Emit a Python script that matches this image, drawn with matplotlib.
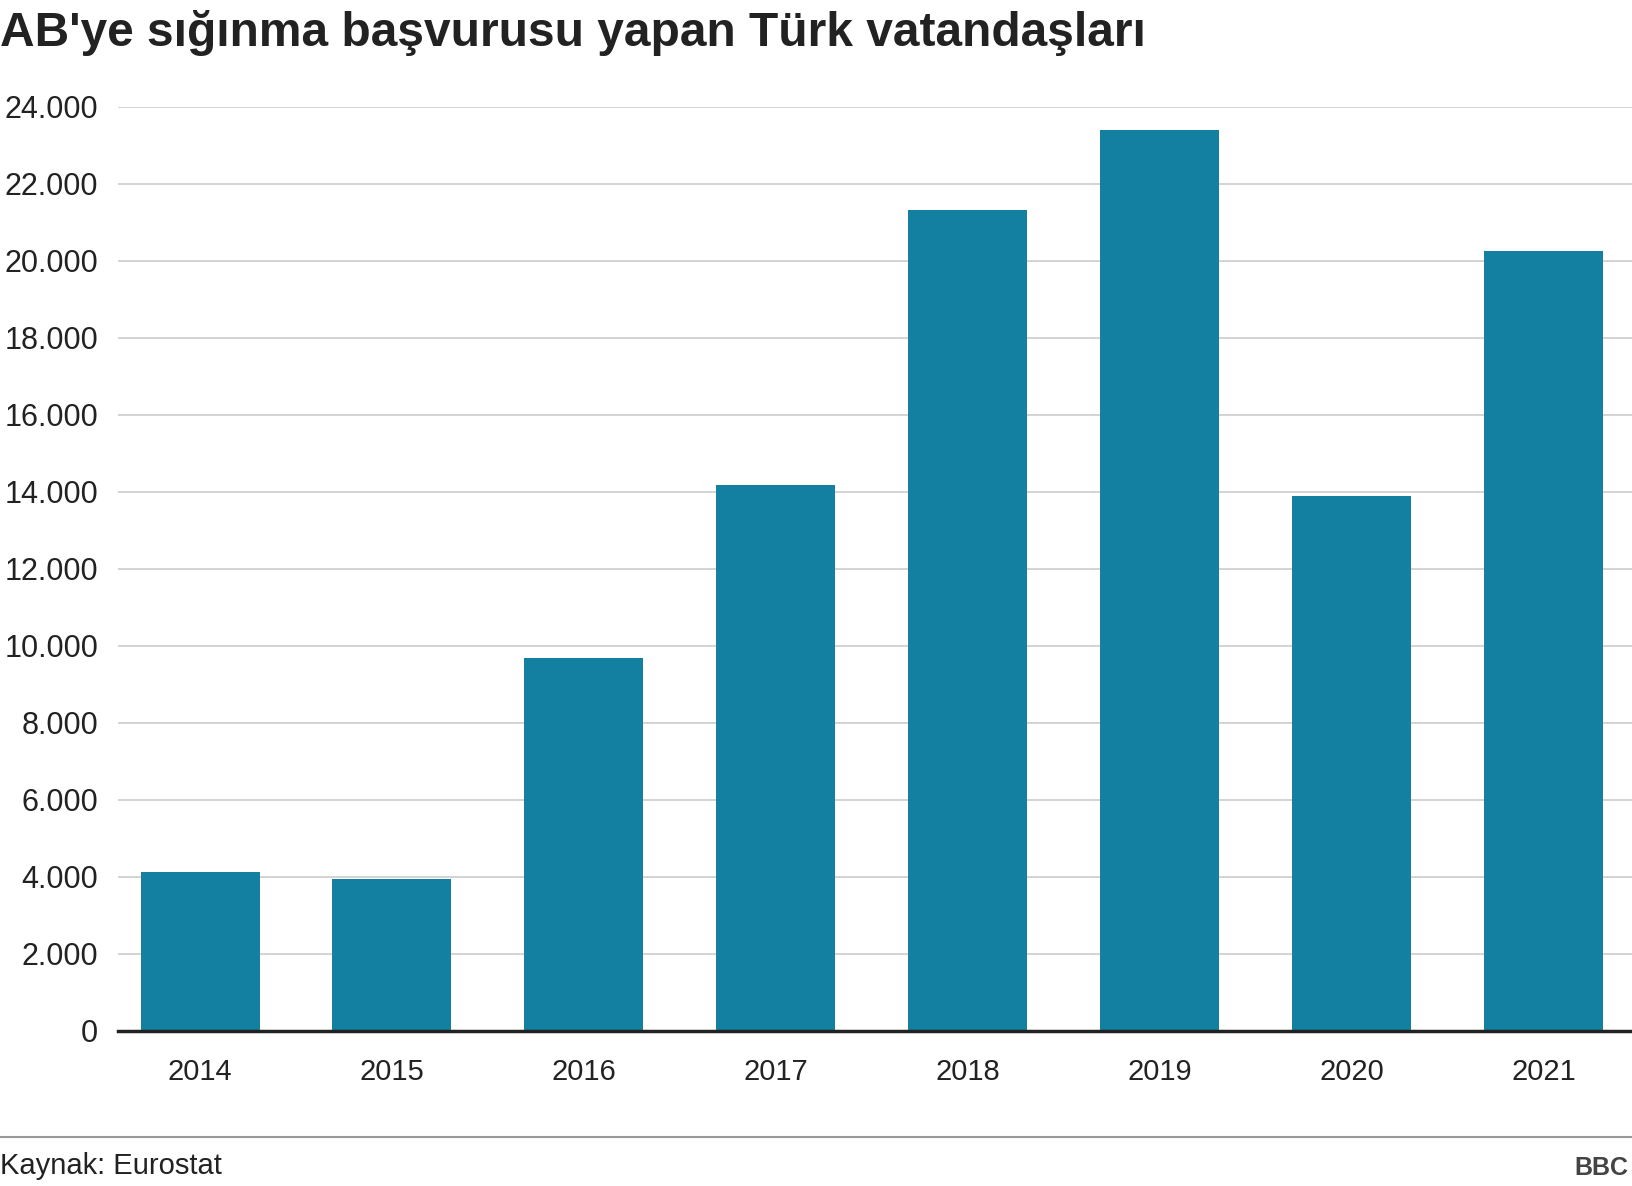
import matplotlib
matplotlib.use("Agg")
import matplotlib.pyplot as plt
from matplotlib.ticker import FuncFormatter

years = ["2014", "2015", "2016", "2017", "2018", "2019", "2020", "2021"]
values = [4130, 3930, 9680, 14170, 21310, 23400, 13900, 20250]

plt.rcParams['font.family'] = ['Liberation Sans', 'DejaVu Sans']
fig = plt.figure(figsize=(16.32, 11.86), dpi=100)
ax = fig.add_axes([0.072, 0.131, 0.928, 0.779])
ax.bar(range(len(years)), values, width=0.62, color="#1380A1", zorder=2)
ax.set_xlim(-0.43, 7.46)
ax.set_ylim(0, 24000)
ax.set_yticks(range(0, 24001, 2000))
ax.yaxis.set_major_formatter(FuncFormatter(lambda v, p: f"{int(v):,}".replace(",", ".")))
ax.set_xticks(range(len(years)))
ax.set_xticklabels(years)
ax.grid(axis='y', color="#cccccc", linewidth=1.2, zorder=0)
for s in ['top', 'right', 'left']:
    ax.spines[s].set_visible(False)
ax.spines['bottom'].set_linewidth(2.5)
ax.spines['bottom'].set_color('#222222')
ax.tick_params(axis='both', length=0, labelsize=21, colors='#222222')
ax.tick_params(axis='y', labelsize=22, pad=14)
ax.tick_params(axis='x', pad=20)
fig.text(0.0, 0.972, "AB'ye sığınma başvurusu yapan Türk vatandaşları", fontsize=34.5,
         fontweight='bold', va='center', ha='left', color='#222222')
fig.lines.append(plt.Line2D([0, 1], [1 - 1085/1132, 1 - 1085/1132], color='#999999', linewidth=1.5, transform=fig.transFigure))
fig.text(0.0, 1 - 1113/1132, "Kaynak: Eurostat", fontsize=21, va='center', ha='left', color='#222222')
fig.text(0.998, 1 - 1115/1132, "BBC", fontsize=18, fontweight='bold', va='center', ha='right',
         color='#444444')
fig.savefig("out.png", dpi=100)
